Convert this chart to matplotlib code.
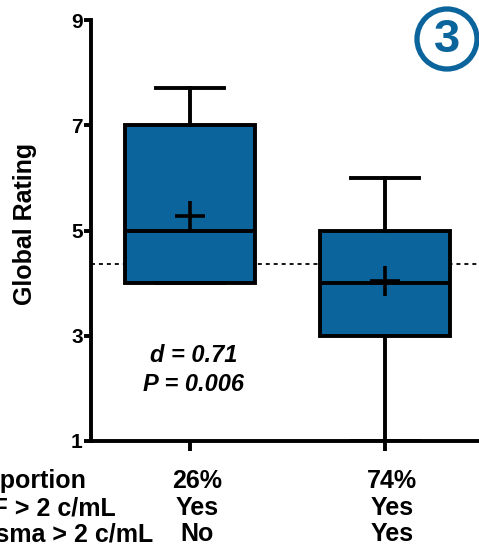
import matplotlib
matplotlib.use("Agg")
import matplotlib.pyplot as plt
from matplotlib.patches import Ellipse
from matplotlib import transforms

plt.rcParams["font.family"] = ["Liberation Sans", "DejaVu Sans"]
plt.rcParams["font.weight"] = "bold"

# Box summary for the two groups
groups = ["26%", "74%"]
q1 = [4.0, 3.0]
median = [5.0, 4.0]
q3 = [7.0, 5.0]
whisker_low = [4.0, 1.0]
whisker_high = [7.7, 6.0]
means = [5.28, 4.04]
reference_level = 4.37

# Category table under the axis
row_names = ["Proportion", "CSF > 2 c/mL", "Plasma > 2 c/mL"]
col_values = [["26%", "Yes", "No"], ["74%", "Yes", "Yes"]]
y_ticks = [1, 3, 5, 7, 9]
effect_text = ["d = 0.71", "P = 0.006"]

blue = "#0b649b"
W, H = 479, 547
fig = plt.figure(figsize=(W / 100, H / 100), dpi=100)
ax = fig.add_axes([91 / W, (H - 441) / H, 1 - 91 / W, (441 - 20) / H])

positions = [1, 2]
stats = []
for i in range(2):
    stats.append(dict(q1=q1[i], med=median[i], q3=q3[i], whislo=whisker_low[i],
                      whishi=whisker_high[i], mean=means[i], fliers=[], label=groups[i]))

lw = 2.8
ax.axhline(reference_level, color="black", lw=1.3, ls=(0, (2.2, 2.2)), zorder=1)
ax.bxp(stats, positions=positions, widths=0.67, capwidths=0.35, patch_artist=True,
       showmeans=True, showfliers=False,
       boxprops=dict(facecolor=blue, edgecolor="black", linewidth=lw),
       medianprops=dict(color="black", linewidth=lw),
       whiskerprops=dict(color="black", linewidth=lw),
       capprops=dict(color="black", linewidth=lw),
       meanprops=dict(marker="+", markersize=21, markeredgewidth=2.6,
                      markeredgecolor="black"),
       zorder=2)

ax.set_xlim(0.4923, 2.482)
ax.set_ylim(1, 9)
ax.set_yticks(y_ticks)
ax.set_yticklabels([str(t) for t in y_ticks], fontsize=15, fontweight="bold")
ax.set_xticks(positions)
ax.set_xticklabels([])
for s in ["top", "right"]:
    ax.spines[s].set_visible(False)
for s in ["left", "bottom"]:
    ax.spines[s].set_linewidth(lw)
ax.tick_params(axis="y", length=5, width=lw, pad=1)
ax.tick_params(axis="x", length=7, width=lw)

fig.text(25 / W, 1 - 224 / H, "Global Rating", rotation=90, ha="center", va="center",
         fontsize=18, fontweight="bold")

ax.text(1.02, 2.62, effect_text[0], ha="center", va="center", fontsize=17,
        fontweight="bold", style="italic")
ax.text(1.02, 2.08, effect_text[1], ha="center", va="center", fontsize=17,
        fontweight="bold", style="italic")

# Table of categories beneath the axis
row_y = [481, 508, 534]
for r, name in enumerate(row_names):
    fig.text(-42 / W, 1 - row_y[r] / H, name, ha="left", va="center",
             fontsize=18, fontweight="bold")
blend = transforms.blended_transform_factory(ax.transData, fig.transFigure)
for c, vals in enumerate(col_values):
    for r, v in enumerate(vals):
        ax.text(positions[c] + 0.036, 1 - row_y[r] / H, v, transform=blend,
                ha="center", va="center", fontsize=18, fontweight="bold",
                clip_on=False)

# Numbered badge in the corner
fig.add_artist(Ellipse((447 / W, 1 - 39 / H), 60 / W, 60 / H, transform=fig.transFigure,
                       facecolor="white", edgecolor=blue, linewidth=3.8))
fig.text(447 / W, 1 - 40 / H, "3", ha="center", va="center", fontsize=34,
         fontweight="bold", color=blue)

fig.savefig("out.png", dpi=100)
